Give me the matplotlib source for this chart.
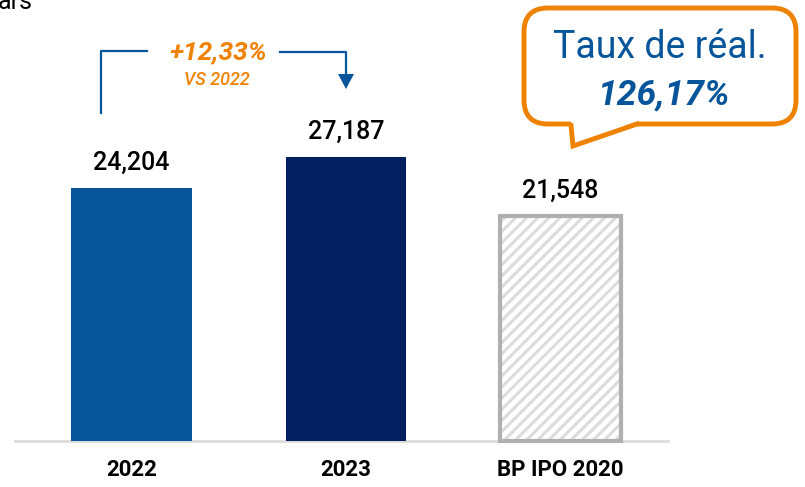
import matplotlib
matplotlib.use("Agg")
import matplotlib.pyplot as plt
from matplotlib.patches import FancyBboxPatch, Polygon

# Données
categories = ["2022", "2023", "BP IPO 2020"]
valeurs = [24.204, 27.187, 21.548]
etiquettes = ["24,204", "27,187", "21,548"]
variation = "+12,33%"
variation_ref = "VS 2022"
taux_titre = "Taux de réal."
taux_valeur = "126,17%"

bleu = "#06559a"
bleu_fonce = "#021f5f"
orange = "#ef8200"
gris = "#b0b0b0"
gris_clair = "#dcdcdc"

plt.rcParams['font.family'] = ['Roboto', 'DejaVu Sans']
plt.rcParams['hatch.linewidth'] = 2.2

fig = plt.figure(figsize=(8.05, 4.87), dpi=100)

# Axe principal (barres)
ax = fig.add_axes([15 / 805, 46 / 487, 653 / 805, 441 / 487])
ax.set_xlim(-0.543, 2.501)
ax.set_ylim(0, 441 / 10.45)
ax.axis('off')

x = list(range(len(categories)))
largeur = 0.564
ax.bar(x[0], valeurs[0], width=largeur, color=bleu, zorder=2)
ax.bar(x[1], valeurs[1], width=largeur, color=bleu_fonce, zorder=2)
# barre hachurée : hachures gris clair puis contour gris
ax.bar(x[2], valeurs[2], width=largeur, color='white', edgecolor=gris_clair,
       hatch='///', linewidth=0, zorder=2)
ax.bar(x[2], valeurs[2], width=largeur, fill=False, edgecolor=gris,
       linewidth=3, zorder=3, clip_on=False)

ax.axhline(0, xmin=0, xmax=1, color=gris_clair, linewidth=2, zorder=1, clip_on=False)

for i, v in enumerate(valeurs):
    ax.text(x[i], v + 2.4, etiquettes[i], ha='center', va='center',
            fontsize=18, fontweight='medium', color='black')
    ax.text(x[i], -2.8, categories[i], ha='center', va='center',
            fontsize=16, fontweight='bold', color='black', clip_on=False)

# Calque en pixels pour les annotations
ov = fig.add_axes([0, 0, 1, 1])
ov.set_xlim(0, 805)
ov.set_ylim(487, 0)
ov.axis('off')

# Texte coupé en haut à gauche
ov.text(-2, 9, "ars", fontsize=18, color='black', ha='left', va='baseline')

# Crochet + flèche
ov.plot([101, 101, 147], [113, 51, 51], color=bleu, linewidth=1.6)
ov.plot([280, 346, 346], [52, 52, 76], color=bleu, linewidth=1.6)
ov.add_patch(Polygon([(338, 74), (354, 74), (346, 89)], closed=True,
                     facecolor=bleu, edgecolor='none'))
ov.text(218, 52, variation, ha='center', va='center', fontsize=19,
        fontweight='bold', fontstyle='italic', color=orange)
ov.text(217, 80, variation_ref, ha='center', va='center', fontsize=13,
        fontweight='medium', fontstyle='italic', color=orange)

# Bulle
ov.add_patch(FancyBboxPatch((524, 8), 272, 116,
                            boxstyle='round,pad=0,rounding_size=24',
                            facecolor='white', edgecolor=orange, linewidth=3.5))
ov.add_patch(Polygon([(571, 121), (573, 145), (638, 121)], closed=True,
                     facecolor='white', edgecolor='none', zorder=3))
ov.plot([571, 573, 637], [125.5, 146, 124], color=orange, linewidth=3.5,
        solid_joinstyle='miter', zorder=4)
ov.text(660, 47, taux_titre, ha='center', va='center', fontsize=27,
        color=bleu)
ov.text(663, 95, taux_valeur, ha='center', va='center', fontsize=25.5,
        fontweight='bold', fontstyle='italic', color=bleu)

fig.savefig("out.png", dpi=100)
